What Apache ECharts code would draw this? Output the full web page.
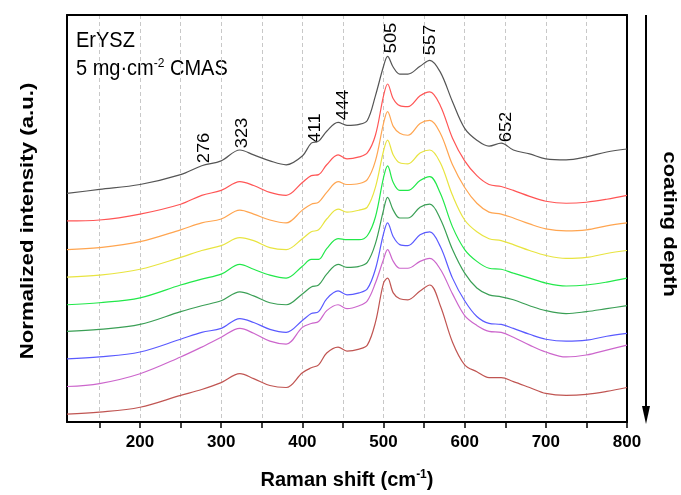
<!DOCTYPE html>
<html><head><meta charset="utf-8">
<script src="https://cdn.jsdelivr.net/npm/echarts@6/dist/echarts.min.js"></script>
<style>html,body{margin:0;padding:0;background:#fff}#c{width:681px;height:495px}</style>
</head><body><div id="c"></div>
<script>
// Raman shift (cm-1) sample positions
const ramanShift = [110,150,200,250,276,300,323,340,360,380,400,411,420,430,444,455,470,480,490,500,505,512,520,530,545,557,570,585,600,615,630,645,660,680,700,725,750,775,800];
// Normalized intensities (offset stacked, a.u.), top (surface) to bottom (deep)
const spec1 = [2.32,2.36,2.41,2.51,2.60,2.65,2.76,2.71,2.65,2.61,2.70,2.83,2.85,2.95,3.04,3.01,3.02,3.06,3.31,3.61,3.71,3.60,3.53,3.53,3.61,3.67,3.55,3.25,2.98,2.86,2.80,2.83,2.76,2.72,2.67,2.66,2.69,2.74,2.77];
const spec2 = [2.04,2.05,2.11,2.21,2.30,2.35,2.44,2.40,2.33,2.30,2.43,2.50,2.51,2.61,2.71,2.67,2.69,2.73,2.91,3.31,3.43,3.28,3.21,3.20,3.31,3.35,3.21,2.88,2.65,2.50,2.41,2.39,2.35,2.29,2.24,2.22,2.23,2.26,2.30];
const spec3 = [1.75,1.77,1.83,1.95,2.02,2.06,2.15,2.11,2.05,2.02,2.15,2.21,2.23,2.33,2.44,2.41,2.42,2.46,2.65,3.03,3.15,3.00,2.93,2.91,3.03,3.06,2.93,2.61,2.38,2.22,2.13,2.11,2.07,2.01,1.96,1.94,1.95,1.99,2.02];
const spec4 = [1.47,1.49,1.55,1.67,1.74,1.79,1.87,1.84,1.77,1.75,1.86,1.93,1.95,2.06,2.16,2.13,2.15,2.18,2.38,2.75,2.86,2.71,2.63,2.62,2.73,2.76,2.63,2.30,2.05,1.93,1.86,1.84,1.80,1.74,1.69,1.66,1.67,1.71,1.74];
const spec5 = [1.19,1.21,1.26,1.39,1.45,1.50,1.60,1.55,1.49,1.46,1.58,1.65,1.65,1.76,1.86,1.85,1.85,1.89,2.08,2.48,2.60,2.43,2.35,2.35,2.45,2.49,2.32,1.98,1.75,1.63,1.56,1.55,1.51,1.46,1.41,1.38,1.39,1.42,1.46];
const spec6 = [0.92,0.94,0.99,1.12,1.18,1.23,1.32,1.28,1.21,1.19,1.30,1.37,1.39,1.50,1.60,1.57,1.58,1.62,1.81,2.15,2.28,2.15,2.07,2.07,2.18,2.21,2.06,1.75,1.51,1.36,1.29,1.27,1.24,1.18,1.13,1.10,1.12,1.15,1.18];
const spec7 = [0.64,0.66,0.71,0.84,0.91,0.95,1.05,1.01,0.94,0.91,1.03,1.10,1.12,1.25,1.33,1.29,1.31,1.35,1.55,1.91,2.02,1.88,1.80,1.79,1.90,1.93,1.78,1.46,1.23,1.07,1.00,0.99,0.95,0.89,0.84,0.82,0.83,0.87,0.90];
const spec8 = [0.36,0.39,0.49,0.66,0.76,0.86,0.95,0.90,0.82,0.79,0.96,1.00,1.02,1.13,1.19,1.15,1.18,1.23,1.41,1.65,1.75,1.63,1.56,1.56,1.63,1.66,1.55,1.30,1.08,0.98,0.92,0.91,0.86,0.78,0.71,0.66,0.68,0.73,0.78];
const spec9 = [0.08,0.10,0.15,0.27,0.33,0.40,0.49,0.44,0.37,0.35,0.50,0.55,0.58,0.70,0.76,0.72,0.74,0.78,1.01,1.41,1.46,1.31,1.25,1.24,1.33,1.39,1.18,0.81,0.58,0.51,0.45,0.45,0.41,0.35,0.29,0.27,0.28,0.31,0.35];
// Axis ticks
const tickValues = [150,200,250,300,350,400,450,500,550,600,650,700,750,800];
const labelValues = [200,300,400,500,600,700,800];
// Peak annotations
const peakLabels = ['276','323','411','444','505','557','652'];

const spectra = [spec1,spec2,spec3,spec4,spec5,spec6,spec7,spec8,spec9];
const colors = ['#555555','#ff5555','#ffa550','#e8e440','#22e84a','#3a9f55','#5a5aff','#cc66cc','#c05552'];
const FONT = 'Liberation Sans, Arial, sans-serif';

const chart = echarts.init(document.getElementById('c'), null, {renderer:'canvas'});
const series = spectra.map((s,i)=>({
  type:'line', xAxisIndex:0, yAxisIndex:0, showSymbol:false, smooth:0.35,
  lineStyle:{color:colors[i], width:1.2}, itemStyle:{color:colors[i]},
  data: ramanShift.map((x,j)=>[x,s[j]]), z: 10-i
}));
// peak label pixel positions (annotation layout)
const peakPos = [[204,148],[242,133],[315,128],[343,105],[391,38],[430,40],[506,127]];
const graphics = peakLabels.map((t,i)=>({
  type:'text', x:peakPos[i][0], y:peakPos[i][1], rotation:Math.PI/2, scaleX:1.08,
  style:{text:t, font:'17px '+FONT, fill:'#000', textAlign:'center', textVerticalAlign:'middle'}
}));
graphics.push(
  {type:'text', x:76, y:41, scaleY:1.1, style:{text:'ErYSZ', font:'20px '+FONT, fill:'#000', textVerticalAlign:'middle'}},
  {type:'text', x:76, y:69, scaleY:1.1, style:{text:'5 mg·cm{sup|-2} CMAS', font:'20px '+FONT, fill:'#000', textVerticalAlign:'middle',
     rich:{sup:{fontSize:12, fontFamily:FONT, verticalAlign:'top', padding:[0,0,10,0]}}}},
  {type:'line', shape:{x1:646,y1:15,x2:646,y2:410}, style:{stroke:'#000', lineWidth:2}},
  {type:'polygon', shape:{points:[[642,406],[650,406],[646,424]]}, style:{fill:'#000'}},
  {type:'text', x:669, y:224, rotation:-Math.PI/2, scaleX:1.17,
   style:{text:'coating depth', font:'bold 19px '+FONT, fill:'#000', textAlign:'center', textVerticalAlign:'middle'}},
  {type:'text', x:28, y:221, rotation:Math.PI/2, scaleX:1.17,
   style:{text:'Normalized intensity (a.u.)', font:'bold 19px '+FONT, fill:'#000', textAlign:'center', textVerticalAlign:'middle'}}
);

chart.setOption({
  animation:false,
  backgroundColor:'#fff',
  grid:{left:67, top:15, width:560, height:413, containLabel:false},
  xAxis:[{
    type:'value', min:110, max:800, position:'bottom',
    axisLine:{show:true, onZero:false, lineStyle:{color:'#000', width:2}},
    axisTick:{show:true, length:6, customValues:tickValues, lineStyle:{color:'#000', width:1.5}},
    axisLabel:{customValues:labelValues, color:'#000', fontFamily:FONT, fontWeight:'bold', fontSize:17, margin:12},
    splitLine:{show:true, lineStyle:{color:'#c8c8c8', type:[4,3], width:1}},
    name:'Raman shift (cm{sup|-1})', nameLocation:'middle', nameGap:47,
    nameTextStyle:{color:'#000', fontFamily:FONT, fontWeight:'bold', fontSize:20,
      rich:{sup:{fontSize:12, fontFamily:FONT, fontWeight:'bold', verticalAlign:'top', padding:[0,0,10,0]}}}
  },{
    type:'value', min:110, max:800, position:'top',
    axisLine:{show:true, onZero:false, lineStyle:{color:'#000', width:2}},
    axisTick:{show:false}, axisLabel:{show:false}, splitLine:{show:false}
  }],
  yAxis:[{
    type:'value', min:0, max:4.13, position:'left',
    axisLine:{show:true, onZero:false, lineStyle:{color:'#000', width:2}},
    axisTick:{show:false}, axisLabel:{show:false}, splitLine:{show:false}
  },{
    type:'value', min:0, max:4.13, position:'right',
    axisLine:{show:true, onZero:false, lineStyle:{color:'#000', width:2}},
    axisTick:{show:false}, axisLabel:{show:false}, splitLine:{show:false}
  }],
  series: series,
  graphic: graphics
});
</script></body></html>
